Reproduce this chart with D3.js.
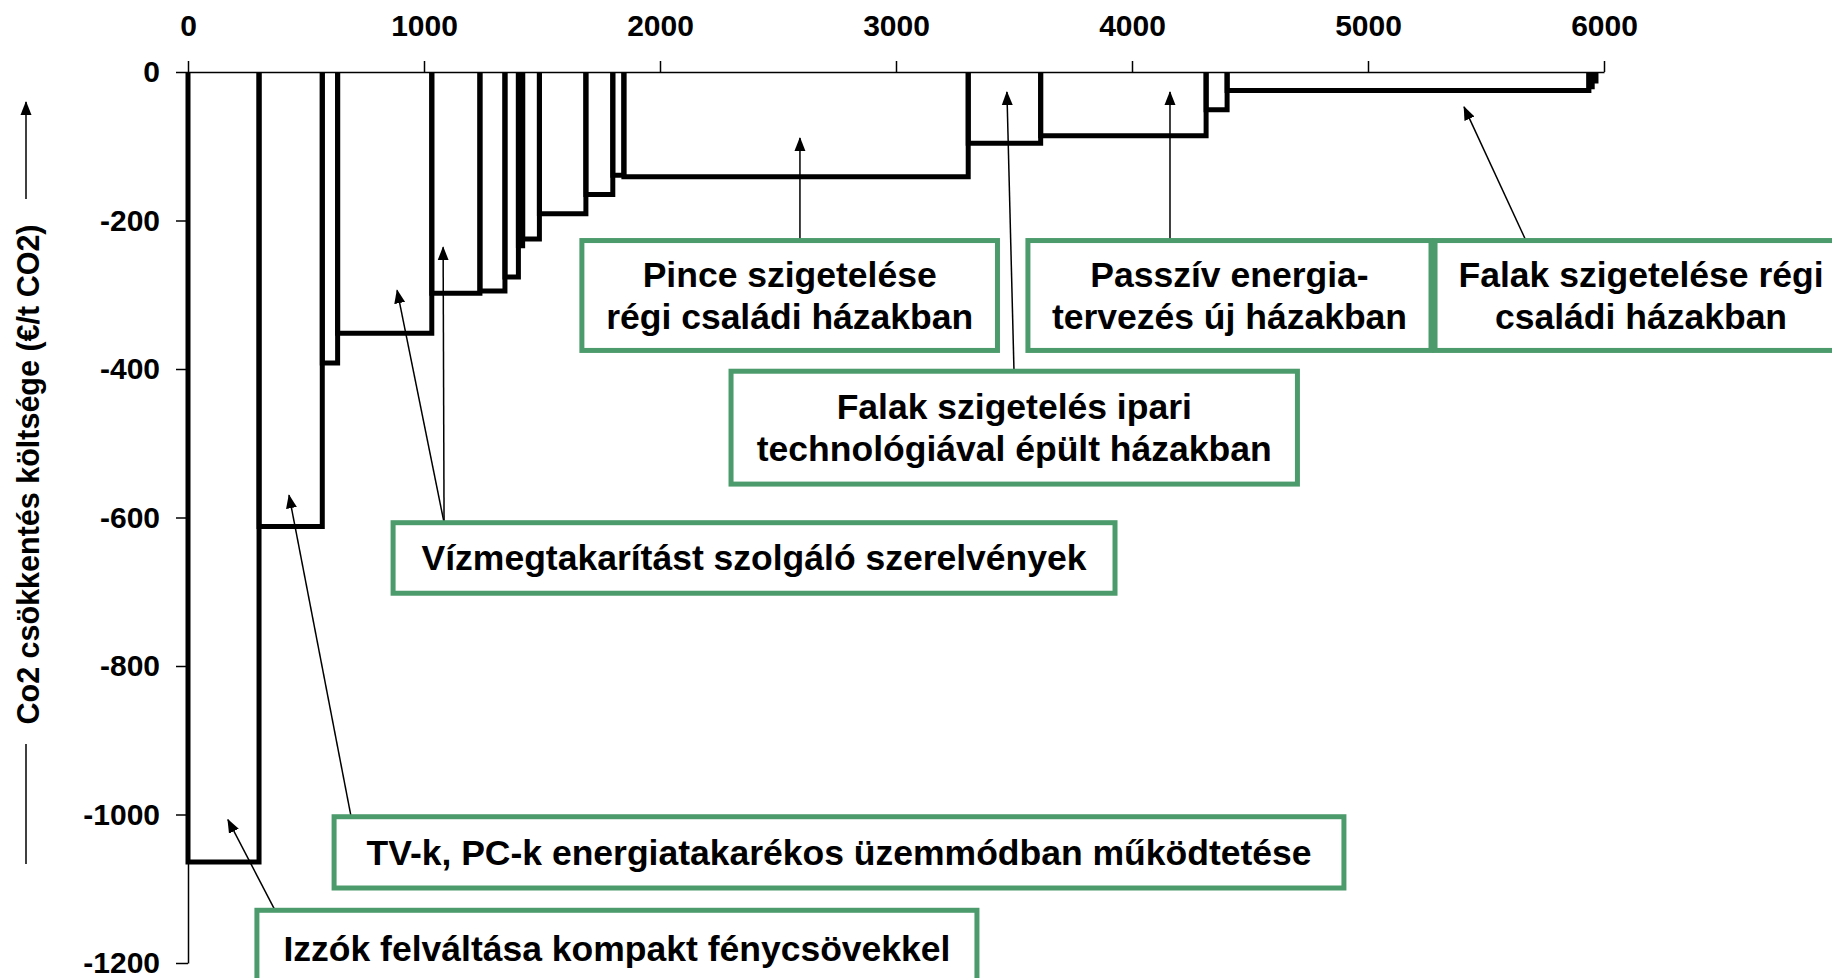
<!DOCTYPE html>
<html lang="hu">
<head>
<meta charset="utf-8">
<title>CO2 csökkentés költsége</title>
<script src="https://cdnjs.cloudflare.com/ajax/libs/d3/7.8.5/d3.min.js"></script>
<style>
  body { margin: 0; background: #fff; }
  svg { display: block; font-family: "Liberation Sans", Arial, Helvetica, sans-serif; font-weight: bold; }
</style>
</head>
<body>
<div id="chart"></div>
<script>
// abatement potential of each measure (bar width) and its cost (€/t CO2)
var potential = [301, 268, 65, 399, 204, 106, 57, 18, 71, 197, 114, 47, 1459, 307, 701, 89, 1533, 14, 16];
var cost = [-1064, -612, -392, -352, -298, -295, -276, -234, -225, -191, -165, -139, -141, -96, -86, -51, -25, -20, -12];
var xTicks = [0, 1000, 2000, 3000, 4000, 5000, 6000];
var yTicks = [0, -200, -400, -600, -800, -1000, -1200];
var yTitle = "Co2 csökkentés költsége (€/t CO2)";

// callout texts
var noteText = [
  ["Pince szigetelése", "régi családi házakban"],
  ["Passzív energia-", "tervezés új házakban"],
  ["Falak szigetelése régi", "családi házakban"],
  ["Falak szigetelés ipari", "technológiával épült házakban"],
  ["Vízmegtakarítást szolgáló szerelvények"],
  ["TV-k, PC-k energiatakarékos üzemmódban működtetése"],
  ["Izzók felváltása kompakt fénycsövekkel"]
];
// where the callouts sit, in axis units: [x0, x1, yTop, yBottom]
var noteBox = [
  [1669, 3430, -227, -375],
  [3559, 5267, -227, -375],
  [5284, 7030, -227, -375],
  [2301, 4701, -403, -555],
  [869, 3928, -607, -702],
  [619, 4898, -1003, -1099],
  [292, 3343, -1129, -1232]
];
// arrows: [start x on box top, tip x, tip y]
var noteArrows = [
  [[2593, 2593, -89]],
  [[4161, 4161, -27]],
  [[5669, 5407, -47]],
  [[3500, 3470, -27]],
  [[1085, 886, -294], [1085, 1081, -236]],
  [[691, 428, -570]],
  [[369, 169, -1007]]
];

var width = 1832, height = 978;
var green = "#4c9b6c";

var x = d3.scaleLinear().domain([0, 6000]).range([188, 1604]);
var y = d3.scaleLinear().domain([0, -1200]).range([72, 963]);

var svg = d3.select("#chart").append("svg")
  .attr("width", width)
  .attr("height", height);

svg.append("rect").attr("width", width).attr("height", height).attr("fill", "#fff");

var defs = svg.append("defs");
defs.append("marker")
  .attr("id", "head")
  .attr("markerUnits", "userSpaceOnUse")
  .attr("viewBox", "0 -6 14 12")
  .attr("refX", 13)
  .attr("refY", 0)
  .attr("markerWidth", 14)
  .attr("markerHeight", 12)
  .attr("orient", "auto")
  .append("path")
  .attr("d", "M0,-5.5L14,0L0,5.5Z")
  .attr("fill", "#000");

// axes
var xAxis = svg.append("g")
  .attr("transform", "translate(0," + y(0) + ")")
  .call(d3.axisTop(x).tickValues(xTicks).tickSize(11).tickSizeOuter(0).tickPadding(25).tickFormat(d3.format("d")));

var yAxis = svg.append("g")
  .attr("transform", "translate(" + x(0) + ",0)")
  .call(d3.axisLeft(y).tickValues(yTicks).tickSize(12).tickSizeOuter(0).tickPadding(16).tickFormat(d3.format("d")));

[xAxis, yAxis].forEach(function(g) {
  g.attr("font-family", null).attr("font-size", null);
  g.selectAll("path, line").attr("stroke", "#000").attr("stroke-width", 1.5);
  g.selectAll("text").attr("font-size", 30).attr("fill", "#000");
});
yAxis.selectAll("text").text(function(d) { return d3.format("d")(d).replace("−", "-"); });

// y title with its arrow lines
var titleG = svg.append("g");
titleG.append("text")
  .attr("transform", "translate(39,474.5) rotate(-90)")
  .attr("text-anchor", "middle")
  .attr("font-size", 30.5)
  .text(yTitle);
titleG.append("line")
  .attr("x1", 26).attr("x2", 26).attr("y1", 199).attr("y2", 102)
  .attr("stroke", "#000").attr("stroke-width", 1.5)
  .attr("marker-end", "url(#head)");
titleG.append("line")
  .attr("x1", 26).attr("x2", 26).attr("y1", 744).attr("y2", 864)
  .attr("stroke", "#000").attr("stroke-width", 1.5);

// step bars
var ends = d3.cumsum(potential);
var bars = potential.map(function(p, i) {
  return { x0: ends[i] - p, x1: ends[i], v: cost[i] };
});

svg.append("g").selectAll("path")
  .data(bars)
  .enter().append("path")
  .attr("d", function(d) {
    return "M" + x(d.x0) + "," + y(0) + "V" + y(d.v) + "H" + x(d.x1) + "V" + y(0);
  })
  .attr("fill", "none")
  .attr("stroke", "#000")
  .attr("stroke-width", 5)
  .attr("stroke-linejoin", "miter");

// callouts
var notes = svg.append("g");
noteText.forEach(function(lines, i) {
  var b = noteBox[i];
  var bx0 = x(b[0]), bx1 = x(b[1]), by0 = y(b[2]), by1 = y(b[3]);

  noteArrows[i].forEach(function(a) {
    notes.append("line")
      .attr("x1", x(a[0])).attr("y1", by0)
      .attr("x2", x(a[1])).attr("y2", y(a[2]))
      .attr("stroke", "#000").attr("stroke-width", 1.5)
      .attr("marker-end", "url(#head)");
  });

  notes.append("rect")
    .attr("x", bx0).attr("y", by0)
    .attr("width", bx1 - bx0).attr("height", by1 - by0)
    .attr("fill", "#fff")
    .attr("stroke", green)
    .attr("stroke-width", 5);

  var lh = 41.5, cap = 25;
  var top = (by0 + by1) / 2 - ((lines.length - 1) * lh + cap) / 2 + cap;
  notes.append("text")
    .attr("text-anchor", "middle")
    .attr("font-size", 35.5)
    .attr("fill", "#000")
    .selectAll("tspan")
    .data(lines)
    .enter().append("tspan")
    .attr("x", (bx0 + bx1) / 2)
    .attr("y", function(d, j) { return top + j * lh; })
    .text(function(d) { return d; });
});
</script>
</body>
</html>
